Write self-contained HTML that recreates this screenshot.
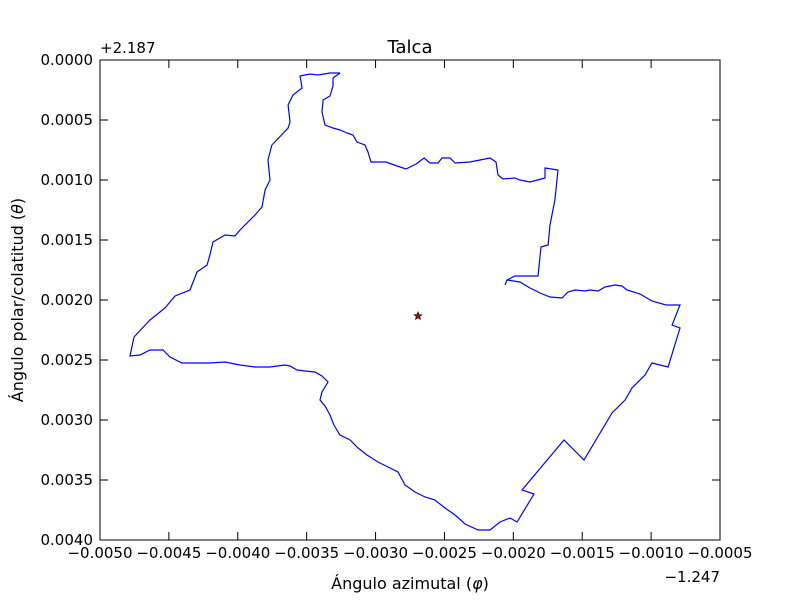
<!DOCTYPE html>
<html><head><meta charset="utf-8"><style>
body{margin:0;background:#fff;width:800px;height:600px;overflow:hidden}
svg{font-family:"DejaVu Sans","Liberation Sans",sans-serif}
</style></head><body>
<svg id="chart" width="800" height="600">
<rect width="800" height="600" fill="#fff"/>
<g id="marks"></g>
<g id="axes"></g>
<text x="410" y="53" font-size="18" text-anchor="middle">Talca</text>
<text x="100" y="53" font-size="15" text-anchor="start">+2.187</text>
<text x="720" y="582" font-size="15" text-anchor="end">−1.247</text>
<text x="410" y="589" font-size="16" text-anchor="middle">Ángulo azimutal (<tspan font-style="italic">φ</tspan>)</text>
<text transform="translate(23,300) rotate(-90)" font-size="16" text-anchor="middle">Ángulo polar/colatitud (<tspan font-style="italic">θ</tspan>)</text>
<rect x="100" y="60" width="620" height="480" fill="none" stroke="#000" stroke-width="1"/>
</svg>
<script>
// boundary in units of 1e-4 (x offset from -1.247, y offset from 2.187)
const boundaryX=[-32.58,-33.09,-33.09,-33.31,-33.81,-33.89,-33.67,-33.09,-32.58,-32.07,-31.64,-31.35,-30.77,-30.55,-30.33,-29.24,-28.44,-27.79,-27.06,-26.48,-26.05,-25.47,-25.18,-24.60,-24.23,-23.15,-22.42,-21.69,-21.26,-21.11,-20.75,-19.88,-19.52,-18.79,-17.70,-17.70,-16.76,-16.98,-17.34,-17.48,-17.99,-18.21,-19.88,-20.46,-20.60,-20.46,-19.52,-18.79,-18.06,-17.34,-16.47,-16.03,-15.52,-14.80,-14.44,-13.85,-13.35,-12.62,-12.11,-11.75,-10.81,-9.94,-8.92,-7.90,-8.48,-7.90,-8.77,-9.94,-10.44,-11.39,-11.89,-12.84,-14.87,-16.32,-19.37,-18.50,-19.73,-20.24,-20.97,-21.69,-22.56,-23.51,-24.23,-24.96,-25.69,-26.41,-27.14,-27.86,-28.37,-29.10,-29.82,-30.62,-31.27,-31.85,-32.58,-33.02,-33.31,-33.67,-34.03,-33.89,-33.45,-33.89,-34.40,-35.12,-35.70,-36.21,-36.57,-37.66,-38.75,-39.84,-40.93,-42.02,-44.05,-44.92,-45.43,-46.37,-47.10,-47.82,-47.53,-46.37,-45.28,-44.56,-43.47,-42.96,-42.23,-42.02,-41.80,-40.93,-40.20,-39.84,-38.75,-38.24,-38.02,-37.66,-37.81,-37.52,-36.35,-36.21,-36.35,-35.99,-35.34,-35.48,-34.76,-34.18,-33.31,-32.58];
const boundaryY=[1.08,1.5,2.17,3,3.33,4.33,5.42,5.67,5.83,6.08,6.25,6.83,7.08,7.67,8.5,8.5,8.83,9.08,8.67,8.17,8.58,8.58,8.17,8.17,8.58,8.5,8.33,8.17,8.5,9.58,9.92,9.83,10,10.17,9.83,9,9.17,11.67,13.75,15.42,15.58,18,18,18.33,18.75,18.33,18.5,19,19.42,19.75,19.83,19.33,19.17,19.25,19.17,19.25,18.92,18.75,18.83,19.17,19.5,20.08,20.42,20.42,22.08,22.33,25.58,25.25,26.25,27.33,28.33,29.42,33.33,31.67,35.83,36.17,38.5,38.17,38.5,39.17,39.17,38.67,37.92,37.33,36.67,36.42,36,35.42,34.33,33.92,33.5,32.92,32.33,31.67,31.25,30.42,29.58,28.83,28.33,27.67,26.83,26.33,26,25.92,25.83,25.5,25.42,25.58,25.58,25.42,25.17,25.25,25.25,24.75,24.17,24.17,24.58,24.67,23.08,21.67,20.67,19.67,19.17,17.67,17.08,16.25,15.17,14.58,14.67,14.17,12.92,12.25,10.83,10,8.33,7.08,5.67,5.17,3.75,2.92,2.33,1.33,1.17,1.25,1.08,1.08];
const centerX=[-26.92];
const centerY=[21.33];
const xTicks=[-50,-45,-40,-35,-30,-25,-20,-15,-10,-5];
const xTickLabels=["−0.0050","−0.0045","−0.0040","−0.0035","−0.0030","−0.0025","−0.0020","−0.0015","−0.0010","−0.0005"];
const yTicks=[0,5,10,15,20,25,30,35,40];
const yTickLabels=["0.0000","0.0005","0.0010","0.0015","0.0020","0.0025","0.0030","0.0035","0.0040"];
const X0=100,X1=720,Y0=60,Y1=540,xmin=-50,xmax=-5,ymin=0,ymax=40;
const sx=v=>X0+(v-xmin)/(xmax-xmin)*(X1-X0);
const sy=v=>Y0+(v-ymin)/(ymax-ymin)*(Y1-Y0);
const NS="http://www.w3.org/2000/svg";
const marks=document.getElementById('marks'),axes=document.getElementById('axes');
let d=boundaryX.map((x,i)=>(i?'L':'M')+sx(x).toFixed(1)+' '+sy(boundaryY[i]).toFixed(1)).join(' ');
const p=document.createElementNS(NS,'path');
p.setAttribute('d',d);p.setAttribute('fill','none');p.setAttribute('stroke','#0000ff');p.setAttribute('stroke-width','1.2');


marks.appendChild(p);
centerX.forEach((cx,i)=>{
  const x=sx(cx),y=sy(centerY[i]);let pts=[];
  for(let k=0;k<10;k++){const r=k%2?1.8:4.2,a=-Math.PI/2+k*Math.PI/5;pts.push((x+r*Math.cos(a)).toFixed(1)+','+(y+r*Math.sin(a)).toFixed(1));}
  const s=document.createElementNS(NS,'polygon');
  s.setAttribute('points',pts.join(' '));s.setAttribute('fill','#c00000');s.setAttribute('stroke','#000');s.setAttribute('stroke-width','0.6');
  
  
  marks.appendChild(s);
});
function line(x1,y1,x2,y2){const l=document.createElementNS(NS,'line');l.setAttribute('x1',x1);l.setAttribute('y1',y1);l.setAttribute('x2',x2);l.setAttribute('y2',y2);l.setAttribute('stroke','#000');


axes.appendChild(l);}
function text(x,y,t,anchor){const e=document.createElementNS(NS,'text');e.setAttribute('x',x);e.setAttribute('y',y);e.setAttribute('font-size','15');e.setAttribute('text-anchor',anchor);e.textContent=t;


axes.appendChild(e);}
xTicks.forEach((v,i)=>{const x=sx(v);line(x,Y1,x,Y1-8);line(x,Y0,x,Y0+8);text(x,558,xTickLabels[i],'middle');});
yTicks.forEach((v,i)=>{const y=sy(v);line(X0,y,X0+8,y);line(X1,y,X1-8,y);text(93,y+5,yTickLabels[i],'end');});
</script>
</body></html>
